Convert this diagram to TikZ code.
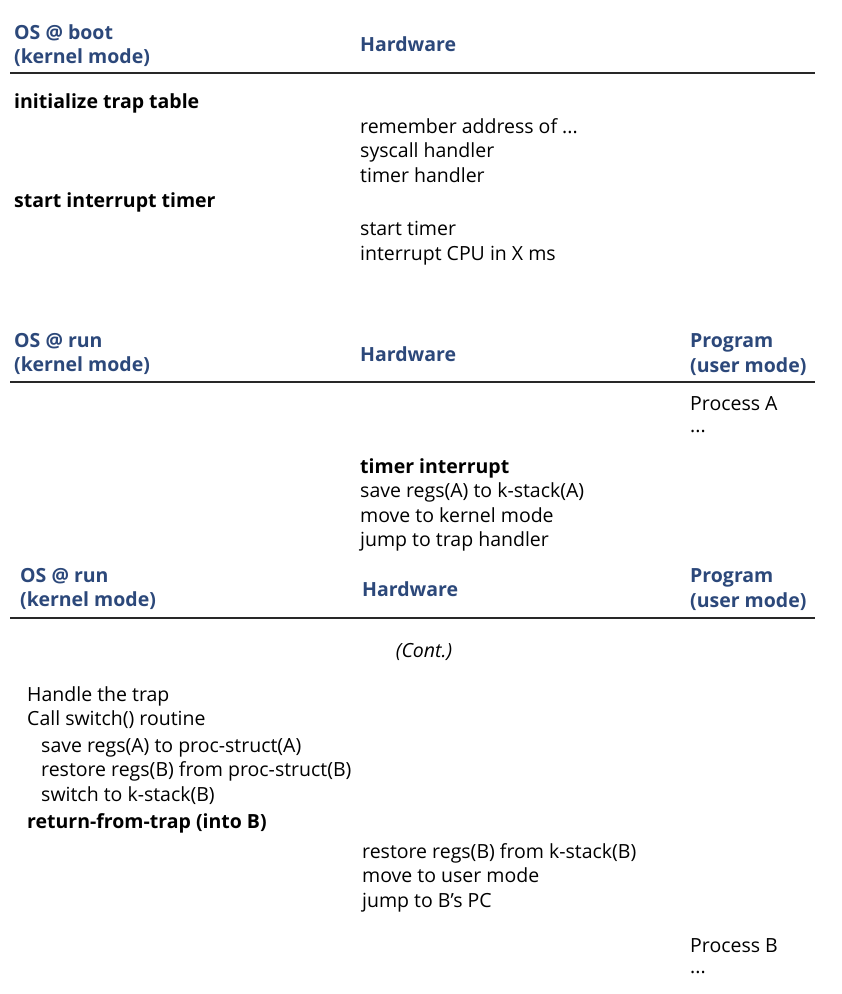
\documentclass[tikz,border=0pt]{standalone}
\usepackage{fontspec}
\setmainfont{Open Sans}
\usepackage{xcolor}
\usepackage{tikz}
\usetikzlibrary{positioning}

\definecolor{hdrblue}{RGB}{44,72,122}
\definecolor{rulegray}{RGB}{40,40,40}

\begin{document}
\begin{tikzpicture}[
  x=1pt, y=-1pt,
  txt/.style={anchor=west, inner sep=0pt, yshift=-1.5pt, align=left, font=\fontsize{19.5}{24.5}\selectfont},
  hdr/.style={txt, text=hdrblue, font=\fontsize{19.5}{24.5}\selectfont\bfseries},
  strong/.style={txt, font=\fontsize{19.5}{24.5}\selectfont\bfseries},
  rule/.style={draw=rulegray, line width=1.6pt}
]
\useasboundingbox (0,0) rectangle (842,994);

% boot table
\node[hdr] (bootOs) at (14, 44) {OS @ boot\\(kernel mode)};
\node[hdr] (bootHw) at (360, 43) {Hardware};
\coordinate (bootL) at (10, 73);
\coordinate (bootR) at (815, 73);
\draw[rule] (bootL) -- (bootR);

\node[strong] (initTrap) at (14, 102) {initialize trap table};
\node[txt] (remember) at (360, 149) {remember address of ...\\syscall handler\\timer handler};
\node[strong] (startInt) at (14, 201) {start interrupt timer};
\node[txt] (startTimer) at (360, 241.5) {start timer\\interrupt CPU in X ms};

% run table, first part
\node[hdr] (runOs) at (14, 352.5) {OS @ run\\(kernel mode)};
\node[hdr] (runHw) at (360, 353) {Hardware};
\node[hdr] (runProg) at (690, 353) {Program\\(user mode)};
\coordinate (runL) at (10, 382);
\coordinate (runR) at (815, 382);
\draw[rule] (runL) -- (runR);

\node[txt] (procA) at (690, 402) {Process A};
\node[txt] (dotsA) at (690, 430) {...};
\node[strong] (timerInt) at (360, 467) {timer interrupt};
\node[txt] (saveA) at (360, 515.5) {save regs(A) to k-stack(A)\\move to kernel mode\\jump to trap handler};

% run table, continued
\node[hdr] (contOs) at (20, 587.5) {OS @ run\\(kernel mode)};
\node[hdr] (contHw) at (362, 588) {Hardware};
\node[hdr] (contProg) at (690, 588) {Program\\(user mode)};
\coordinate (contL) at (10, 618);
\coordinate (contR) at (815, 618);
\draw[rule] (contL) -- (contR);

\node[txt, anchor=center, font=\fontsize{19.5}{24.5}\selectfont\itshape] (cont) at (424, 650) {(Cont.)};

\node[txt] (handle) at (27, 706) {Handle the trap\\Call switch() routine};
\node[txt] (switchSteps) at (41, 770) {save regs(A) to proc-struct(A)\\restore regs(B) from proc-struct(B)\\switch to k-stack(B)};
\node[strong] (retTrap) at (27, 822) {return-from-trap (into B)};
\node[txt] (restoreB) at (362, 876) {restore regs(B) from k-stack(B)\\move to user mode\\jump to B’s PC};
\node[txt] (procB) at (690, 944) {Process B};
\node[txt] (dotsB) at (690, 971) {...};

\end{tikzpicture}
\end{document}
